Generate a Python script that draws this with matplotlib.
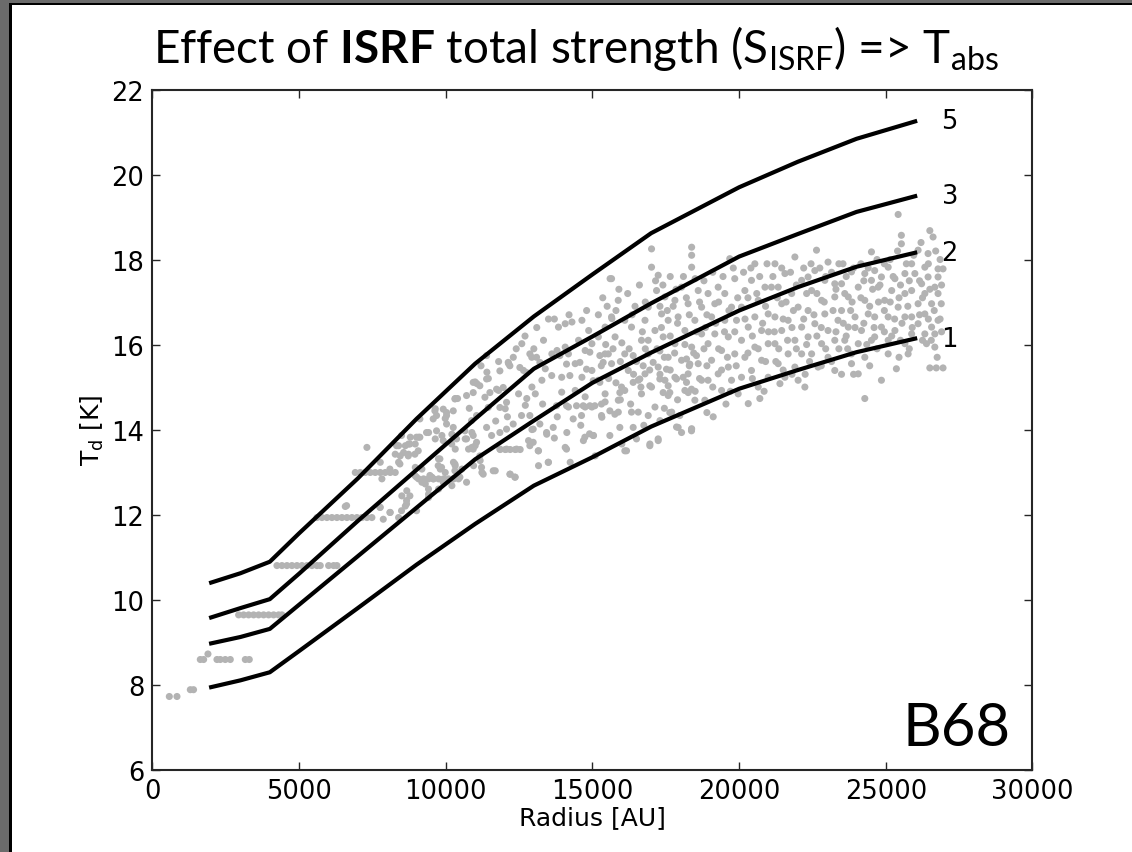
import matplotlib
matplotlib.use('Agg')
import matplotlib.pyplot as plt
from matplotlib.patches import Rectangle
import numpy as np

# model curves (radius in AU, dust temperature in K) for S_ISRF = 1, 2, 3, 5
r_model = [2000, 3000, 4000, 5000, 7000, 9000, 11000, 13000, 15000, 17000, 20000, 22000, 24000, 26000]
t_s1 = [7.94, 8.10, 8.29, 8.79, 9.80, 10.82, 11.78, 12.68, 13.35, 14.07, 14.96, 15.40, 15.82, 16.14]
t_s2 = [8.97, 9.12, 9.31, 9.88, 11.02, 12.16, 13.30, 14.21, 15.10, 15.81, 16.80, 17.35, 17.83, 18.16]
t_s3 = [9.58, 9.80, 10.01, 10.61, 11.85, 13.05, 14.25, 15.43, 16.19, 16.97, 18.07, 18.60, 19.12, 19.49]
t_s5 = [10.40, 10.62, 10.89, 11.56, 12.85, 14.25, 15.55, 16.66, 17.65, 18.62, 19.70, 20.30, 20.84, 21.25]
curve_labels = ['1', '2', '3', '5']

# observed map pixels, inner part (discrete temperature rows)
obs_rows = [
    (574, 7.72), (835, 7.72), (1290, 7.88), (1400, 7.88),
    (1630, 8.59), (1744, 8.59), (1891, 8.72), (2198, 8.59), (2312, 8.59), (2482, 8.59), (2653, 8.59),
    (3164, 8.59), (3300, 8.59),
    (2937, 9.64), (3107, 9.64), (3277, 9.64), (3448, 9.64), (3618, 9.64), (3789, 9.64), (3959, 9.64),
    (4130, 9.64), (4300, 9.64), (4413, 9.64),
    (4243, 10.80), (4413, 10.80), (4584, 10.80), (4754, 10.80), (4925, 10.80), (5095, 10.80),
    (5265, 10.80), (5436, 10.80), (5606, 10.80), (5720, 10.80), (6004, 10.80), (6174, 10.80), (6288, 10.80),
    (5606, 11.93), (5777, 11.93), (5947, 11.93), (6117, 11.93), (6288, 11.93), (6458, 11.93),
    (6629, 11.93), (6799, 11.93), (6969, 11.93), (7140, 11.93), (7310, 11.93), (7480, 11.93), (6572, 12.19),
    (6913, 12.99), (7083, 12.99), (7253, 12.99), (7424, 12.99), (7594, 12.99), (7765, 12.99),
    (7935, 12.99), (8105, 12.99), (8276, 12.99),
    (9071, 12.84), (9241, 12.84), (9412, 12.84), (9582, 12.84), (9753, 12.84), (9923, 12.84),
    (10093, 12.84), (10264, 12.84), (10434, 12.84),
    (11854, 13.53), (12025, 13.53), (12195, 13.53), (12365, 13.53), (12535, 13.53),
    (13774, 14.56), (14115, 14.56), (14456, 14.56), (14683, 14.56), (14910, 14.56), (15080, 14.56),
    (26500, 15.45), (26720, 15.45), (26950, 15.45),
]

# observed map pixels, 7000 - 15500 AU
obs_mid = [
    (7310, 13.58), (7765, 13.23), (7821, 12.84), (7765, 12.17), (8105, 12.05), (8390, 11.93), (8620, 12.20),
    (8500, 12.44), (8670, 12.56), (8390, 13.62), (8620, 13.62), (8790, 13.82), (8275, 13.42), (8445, 13.38),
    (8960, 13.11), (9185, 13.07), (9300, 12.72), (9410, 12.60), (9525, 12.88), (9410, 12.40),
    (9810, 13.07), (9750, 13.31), (10260, 13.23), (10320, 13.15), (10775, 13.54), (10890, 13.58),
    (11000, 13.62), (11170, 13.27), (11230, 12.99), (11685, 13.03), (12195, 12.95), (12365, 12.88),
    (12820, 13.74), (13160, 13.50), (13500, 13.23), (13160, 13.15), (14070, 13.58), (14240, 13.23),
    (14690, 13.74), (15035, 13.86), (15090, 13.38), (13440, 13.89), (14125, 13.93), (12935, 14.00),
    (8390, 13.23), (8560, 13.46), (8730, 13.66), (8957, 13.66), (9071, 13.82), (9412, 13.93), (9639, 13.78),
    (9866, 13.86), (10207, 13.89), (10321, 13.54), (10662, 13.78), (10889, 13.93), (8730, 13.42),
    (8957, 12.91), (9184, 12.76), (9412, 12.48), (9753, 12.60), (9980, 12.99), (10207, 12.68),
    (10548, 13.07), (10945, 13.15),
    (8320, 13.62), (8719, 13.38), (8946, 13.42), (8490, 13.86), (8775, 13.66), (9116, 13.82), (9060, 13.50),
    (9000, 12.88), (9230, 12.80), (8775, 12.44), (8662, 12.25), (8490, 12.09), (8094, 13.07), (8435, 13.19),
    (9570, 14.25), (9684, 14.33), (9684, 13.97), (10025, 14.13), (10253, 14.05), (10025, 14.33),
    (10310, 14.72), (9912, 13.74), (10200, 13.66), (10366, 13.78), (9798, 13.31), (9740, 13.15),
    (9855, 13.11), (9457, 12.92), (9570, 12.84), (9912, 12.76), (10253, 12.84), (10480, 12.88),
    (10310, 13.19), (10310, 13.03), (10707, 12.76), (10934, 13.54), (11048, 13.70), (10934, 13.86),
    (10707, 13.78), (10650, 13.97), (11160, 13.38), (11218, 13.11), (11275, 12.95), (11616, 13.03),
    (12184, 12.95), (12354, 12.88), (11843, 13.54), (12070, 13.54), (12411, 13.54),
    (10707, 14.80), (10934, 14.87), (10877, 14.21), (11048, 14.33), (11333, 14.76), (11503, 14.87),
    (11730, 14.95), (11957, 14.99), (11446, 14.52), (11843, 14.52), (12070, 14.64), (11390, 14.05),
    (11560, 13.86), (11843, 13.93), (12070, 14.01), (12297, 14.13), (12581, 14.33), (12865, 14.33),
    (12979, 14.01), (13206, 14.13), (13434, 13.93), (13661, 14.05), (12979, 13.70), (12865, 13.62),
    (13149, 13.50), (13490, 13.23), (14115, 13.54), (14740, 13.82), (15024, 13.86), (14342, 14.25),
    (14626, 14.33), (15307, 14.33), (9912, 14.48), (10025, 14.40), (9627, 14.44), (9116, 14.25),
    (9000, 13.82), (9343, 13.93), (10253, 14.44), (10934, 15.11), (11160, 15.03), (11390, 15.19),
    (11390, 15.74), (12127, 15.58), (12184, 15.50), (11843, 15.38), (12524, 15.46), (12752, 15.34),
    (12865, 15.78), (13093, 15.70), (13206, 15.58), (13888, 15.74), (14115, 15.54), (14229, 15.27),
    (14570, 15.58), (14910, 15.82), (15251, 15.74), (15364, 15.58), (14797, 15.42), (15024, 15.15),
    (15251, 15.11), (6617, 12.21), (7753, 12.17), (8094, 12.05), (7867, 11.89), (8662, 12.33), (9003, 12.09),
    (9640, 14.49), (9980, 14.26), (10320, 14.73), (10400, 14.73), (11000, 15.12), (11400, 15.35),
    (11450, 15.20), (11800, 14.92), (12025, 14.49), (12140, 15.55), (12590, 16.02), (12650, 15.39),
    (12760, 14.73), (12930, 15.70), (13330, 16.10), (13840, 16.41), (14070, 16.49), (14300, 16.53),
    (14640, 16.57), (14870, 16.33), (13790, 15.86), (14070, 15.94), (13610, 15.27), (13950, 14.88),
    (14180, 14.53), (14750, 14.53), (14980, 14.53), (15320, 14.29), (15430, 14.65), (15430, 15.78),
    (11060, 15.08), (12480, 14.84), (12710, 14.57), (13050, 14.84), (13275, 15.16), (13390, 15.43),
    (13615, 15.78), (14180, 15.78), (14410, 15.55), (14640, 15.23), (14980, 15.39), (15200, 15.16),
    (15430, 14.84), (14410, 14.92), (14750, 14.77), (13950, 15.23), (12935, 15.00), (14525, 16.10),
    (14980, 16.02), (15200, 16.18), (15430, 16.41), (14750, 15.86),
    (12400, 15.90), (12700, 16.20), (13000, 15.90), (13500, 16.60), (13700, 16.60), (14200, 16.70),
    (14800, 16.80), (13100, 16.40), (12300, 15.70), (11800, 15.60), (11200, 15.50), (12100, 14.30),
    (13300, 14.60), (13800, 14.30), (14600, 14.10), (14900, 13.90), (13700, 13.80), (11700, 14.20),
    (10800, 14.50),
]

# observed map pixels, outer part beyond 15500 AU
obs_out = [
    (15600, 17.55), (15660, 16.61), (15650, 17.55), (15877, 17.04), (15650, 16.65), (16100, 16.57),
    (16330, 16.41), (15770, 16.18), (16000, 16.04), (15540, 15.78), (16100, 15.78), (15650, 15.55),
    (16220, 15.39), (15990, 15.00), (16100, 14.92), (16560, 15.16), (15880, 14.69), (16560, 14.41),
    (15880, 14.41), (16330, 14.41), (16387, 15.11), (16614, 15.19), (16955, 15.03), (17296, 15.19),
    (17409, 14.87), (17580, 15.03), (17864, 15.19), (18205, 15.11), (18375, 14.95), (18205, 15.66),
    (17636, 14.40), (17920, 14.05), (18375, 13.97), (16500, 13.78), (16955, 13.62), (17239, 13.78),
    (16103, 13.50), (15932, 14.05), (15592, 13.86), (16387, 14.05), (15592, 14.44), (15762, 14.36),
    (15307, 14.60), (15932, 14.87), (16387, 15.74), (16728, 15.50), (17068, 15.58), (17296, 15.85),
    (17523, 15.42), (18091, 15.23), (18318, 15.54), (18545, 15.74), (17636, 14.87), (18262, 14.87),
    (17977, 14.33), (16000, 13.66), (16160, 13.50), (16957, 13.66), (17240, 13.74), (18036, 13.93),
    (18376, 14.00),
    (17013, 18.25), (17013, 17.82), (17240, 17.63), (17184, 17.27), (17470, 17.12), (16900, 16.88),
    (17354, 16.72), (16790, 16.57), (17580, 16.57), (17130, 16.33), (16670, 16.10), (17410, 16.18),
    (16900, 15.78), (17580, 15.70), (17240, 15.47), (16790, 15.31), (17470, 15.16), (17013, 15.00),
    (16670, 14.84), (17580, 14.80), (17130, 14.53), (16900, 14.33), (17700, 14.41), (17300, 14.21),
    (18380, 18.29), (18380, 18.10), (18380, 17.82), (18036, 17.35), (18604, 17.27), (17810, 17.04),
    (18260, 16.96), (18720, 16.88), (17920, 16.65), (18490, 16.57), (18150, 16.33), (18720, 16.25),
    (17810, 16.02), (18380, 15.94), (18036, 15.63), (18604, 15.55), (18260, 15.31), (17810, 15.23),
    (18720, 15.16), (18150, 14.92), (18490, 14.69), (17865, 14.06), (18380, 14.02), (18830, 14.69),
    (19680, 18.02), (19850, 17.55), (19285, 17.35), (18940, 17.20), (19510, 17.20), (19170, 16.96),
    (19740, 16.88), (19060, 16.65), (19510, 16.57), (19910, 16.57), (19170, 16.25), (19630, 16.18),
    (18940, 16.02), (19400, 15.86), (19850, 15.78), (19060, 15.63), (19630, 15.47), (19285, 15.31),
    (18940, 15.16), (19740, 15.16), (19400, 14.92), (19966, 14.84), (19115, 14.30),
    (20535, 17.90), (20420, 17.51), (20880, 17.35), (20195, 17.27), (20650, 17.04), (21100, 17.35),
    (20080, 16.88), (20535, 16.65), (20990, 16.72), (20310, 16.41), (20765, 16.33), (20080, 16.10),
    (20535, 15.94), (20990, 16.02), (20195, 15.70), (20765, 15.63), (20420, 15.39), (20990, 15.23),
    (20080, 15.23), (20650, 15.00), (20705, 14.73), (20310, 14.61),
    (21220, 17.90), (21900, 18.06), (21560, 17.67), (22130, 17.51), (21330, 17.35), (21790, 17.20),
    (21450, 16.96), (22010, 16.88), (21220, 16.65), (21670, 16.57), (22130, 16.41), (21450, 16.33),
    (21900, 16.10), (21220, 16.02), (21670, 15.78), (22130, 15.78), (21330, 15.55), (21900, 15.47),
    (21560, 15.23), (21390, 15.08), (22010, 15.16), (22240, 15.00),
    (22637, 18.22), (22580, 17.74), (23030, 17.94), (22350, 17.59), (22920, 17.51), (23260, 17.43),
    (22470, 17.27), (22810, 17.04), (23260, 17.12), (22350, 16.80), (22920, 16.72), (23370, 16.57),
    (22580, 16.49), (23030, 16.33), (22350, 16.18), (22810, 16.02), (23260, 16.10), (22470, 15.78),
    (23030, 15.70), (22690, 15.47), (23260, 15.39),
    (23540, 17.90), (24510, 18.18), (23830, 17.71), (24283, 17.67), (23490, 17.43), (24060, 17.35),
    (24510, 17.51), (23720, 17.12), (24283, 17.04), (23490, 16.80), (23950, 16.65), (24400, 16.72),
    (23720, 16.41), (24170, 16.33), (23600, 16.10), (24060, 16.02), (24510, 16.10), (23830, 15.78),
    (24283, 15.70), (23490, 15.30), (23830, 15.55), (24283, 14.73), (24060, 15.31),
    (25420, 19.06), (25530, 18.57), (25530, 18.37), (24620, 17.74), (25080, 17.82), (24850, 17.59),
    (25310, 17.55), (25650, 17.67), (24740, 17.35), (25200, 17.27), (25650, 17.20), (24960, 17.04),
    (25420, 16.88), (24620, 16.65), (25080, 16.65), (25650, 16.65), (24850, 16.41), (25310, 16.33),
    (24620, 16.18), (25080, 16.10), (25650, 16.02), (24850, 15.16), (25360, 15.43), (25080, 15.78),
    (25760, 15.78),
    (26500, 18.68), (26610, 18.53), (26100, 18.22), (26440, 18.14), (25880, 17.90), (26330, 17.82),
    (26780, 17.78), (26950, 17.78), (25990, 17.67), (26440, 17.59), (26780, 17.59), (26220, 17.43),
    (26670, 17.35), (25880, 17.27), (26330, 17.20), (26780, 17.20), (26100, 16.96), (26560, 16.96),
    (26890, 16.96), (25880, 16.65), (26330, 16.72), (26780, 16.57), (26100, 16.49), (26560, 16.41),
    (25880, 16.25), (26330, 16.25), (26670, 16.25), (26386, 16.02), (26670, 15.94),
]

# more pixels from the dense part of the cloud
obs_dense = [
    (15200, 16.70), (15350, 17.10), (15500, 16.90), (15800, 16.80), (15900, 17.30), (15450, 16.00),
    (15700, 15.90), (15950, 15.60), (15300, 15.50), (15550, 15.20), (15800, 15.10), (15950, 14.70),
    (16200, 17.20), (16450, 16.90), (16600, 17.40), (16800, 17.00), (16350, 16.70), (16700, 16.30),
    (16900, 16.10), (16250, 15.90), (16500, 15.60), (16800, 15.90), (16400, 15.30), (16650, 15.00),
    (16950, 15.40), (16300, 14.60), (16750, 14.10),
    (17150, 17.50), (17400, 17.40), (17650, 17.60), (17850, 17.30), (17300, 16.90), (17550, 16.80),
    (17750, 16.90), (17900, 16.50), (17350, 16.40), (17650, 16.20), (17200, 15.90), (17450, 15.70),
    (17800, 15.80), (17300, 15.30), (17650, 15.40), (17900, 14.70), (17450, 14.50),
    (18100, 17.60), (18500, 17.55), (18800, 17.50), (18200, 17.10), (18650, 17.00), (18900, 16.70),
    (18300, 16.70), (18550, 16.30), (18850, 16.40), (18150, 16.00), (18450, 15.80), (18800, 15.90),
    (18300, 15.50), (18650, 15.20), (18900, 15.50), (18500, 14.90), (18900, 14.40),
    (19100, 17.70), (19450, 17.60), (19800, 17.80), (19300, 17.00), (19650, 16.80), (19950, 17.10),
    (19200, 16.50), (19500, 16.30), (19850, 16.30), (19300, 15.90), (19600, 15.70), (19900, 15.50),
    (19400, 15.40), (19700, 14.90), (19100, 15.00), (19550, 14.60),
    (20150, 17.70), (20400, 17.80), (20700, 17.60), (20950, 17.90), (20300, 17.10), (20600, 17.20),
    (20900, 16.90), (20200, 16.60), (20450, 16.20), (20800, 16.50), (21000, 16.30), (20300, 15.80),
    (20650, 15.90), (20900, 15.60), (20450, 15.20), (20850, 14.90),
    (21150, 17.60), (21450, 17.80), (21750, 17.70), (21950, 17.40), (21300, 17.10), (21600, 17.00),
    (21850, 16.80), (21200, 16.30), (21500, 16.60), (21800, 16.40), (21350, 15.90), (21650, 16.10),
    (21950, 15.90), (21500, 15.40), (21800, 15.30), (21250, 15.60),
    (22200, 17.80), (22450, 17.90), (22750, 17.80), (22950, 17.60), (22300, 17.20), (22650, 17.20),
    (22900, 17.00), (22200, 16.60), (22550, 16.70), (22800, 16.40), (22300, 16.00), (22650, 16.20),
    (22950, 15.90), (22400, 15.60), (22800, 15.50), (22250, 15.30),
    (23150, 17.70), (23400, 17.90), (23650, 17.60), (23900, 17.80), (23300, 17.30), (23600, 17.20),
    (23850, 17.00), (23200, 16.80), (23550, 16.50), (23800, 16.80), (23300, 16.30), (23650, 16.20),
    (23950, 16.40), (23400, 15.90), (23700, 15.90), (23150, 15.60), (23900, 15.30),
    (24150, 17.90), (24400, 17.80), (24700, 18.00), (24950, 17.90), (24250, 17.50), (24550, 17.30),
    (24800, 17.40), (24150, 17.10), (24450, 16.90), (24750, 17.00), (24250, 16.50), (24600, 16.40),
    (24950, 16.80), (24350, 16.00), (24700, 15.90), (24950, 16.30), (24450, 15.50),
    (25150, 18.00), (25400, 18.20), (25700, 17.90), (25950, 18.10), (25250, 17.60), (25500, 17.40),
    (25800, 17.50), (25150, 17.00), (25450, 17.10), (25750, 16.90), (25300, 16.60), (25550, 16.50),
    (25900, 16.40), (25200, 16.20), (25500, 16.10), (25800, 15.90), (25450, 15.70),
    (26200, 18.40), (26450, 17.90), (26700, 18.20), (26850, 18.00), (26150, 17.50), (26500, 17.30),
    (26900, 17.40), (26250, 17.10), (26650, 16.80), (26150, 16.70), (26450, 16.60), (26850, 16.60),
    (26250, 16.10), (26550, 16.10), (26900, 16.30), (26750, 15.70),
]

# slide frame
fig = plt.figure(figsize=(11.32, 8.53), dpi=100)
fig.patches.append(Rectangle((0, 1 - 4 / 853), 1, 4 / 853, transform=fig.transFigure,
                             facecolor='#6b6b6b', edgecolor='none'))
fig.patches.append(Rectangle((0, 1 - 6 / 853), 1, 2 / 853, transform=fig.transFigure,
                             facecolor='black', edgecolor='none'))
fig.patches.append(Rectangle((0, 0), 9 / 1132, 1, transform=fig.transFigure,
                             facecolor='#6b6b6b', edgecolor='none'))
fig.patches.append(Rectangle((9 / 1132, 0), 3 / 1132, 1 - 4 / 853, transform=fig.transFigure,
                             facecolor='black', edgecolor='none'))

ax = fig.add_axes([0.1347, 0.0966, 0.7774, 0.7973])

pts = np.array(obs_rows + obs_mid + obs_out + obs_dense)
ax.scatter(pts[:, 0], pts[:, 1], s=26, color='0.7', edgecolors='none', zorder=2)

for t, lab in zip([t_s1, t_s2, t_s3, t_s5], curve_labels):
    ax.plot(r_model, t, color='black', linewidth=3, zorder=3)
    ax.text(26900, t[-1], lab, fontsize=18.5, ha='left', va='center', zorder=4)

ax.set_xlim(0, 30000)
ax.set_ylim(6, 22)
ax.set_xticks(range(0, 30001, 5000))
ax.set_yticks(range(6, 23, 2))
ax.tick_params(direction='in', length=6, width=1, labelsize=18.5, top=True, right=True,
               colors='0.15', labelcolor='black', pad=6)
for sp in ax.spines.values():
    sp.set_linewidth(1.5)
    sp.set_color('0.15')

ax.set_xlabel('Radius [AU]', fontsize=18, labelpad=1)
ax.set_ylabel('T$_\\mathrm{d}$ [K]', fontsize=18, labelpad=4)

plt.rcParams['mathtext.rm'] = 'Lato'
plt.rcParams['mathtext.bf'] = 'Lato:bold'
plt.rcParams['mathtext.it'] = 'Lato:italic'

fig.text(576 / 1132, 1 - 63 / 853,
         r'Effect of $\mathbf{ISRF}$ total strength (S$_{\mathrm{ISRF}}$) => T$_{\mathrm{abs}}$',
         family='Lato', fontsize=33, ha='center', va='baseline', math_fontfamily='custom')

ax.text(1011 / 1132, 1 - 746 / 853, 'B68', transform=fig.transFigure, family='Lato',
        fontsize=43, ha='right', va='baseline')

fig.savefig('out.png', dpi=100)
